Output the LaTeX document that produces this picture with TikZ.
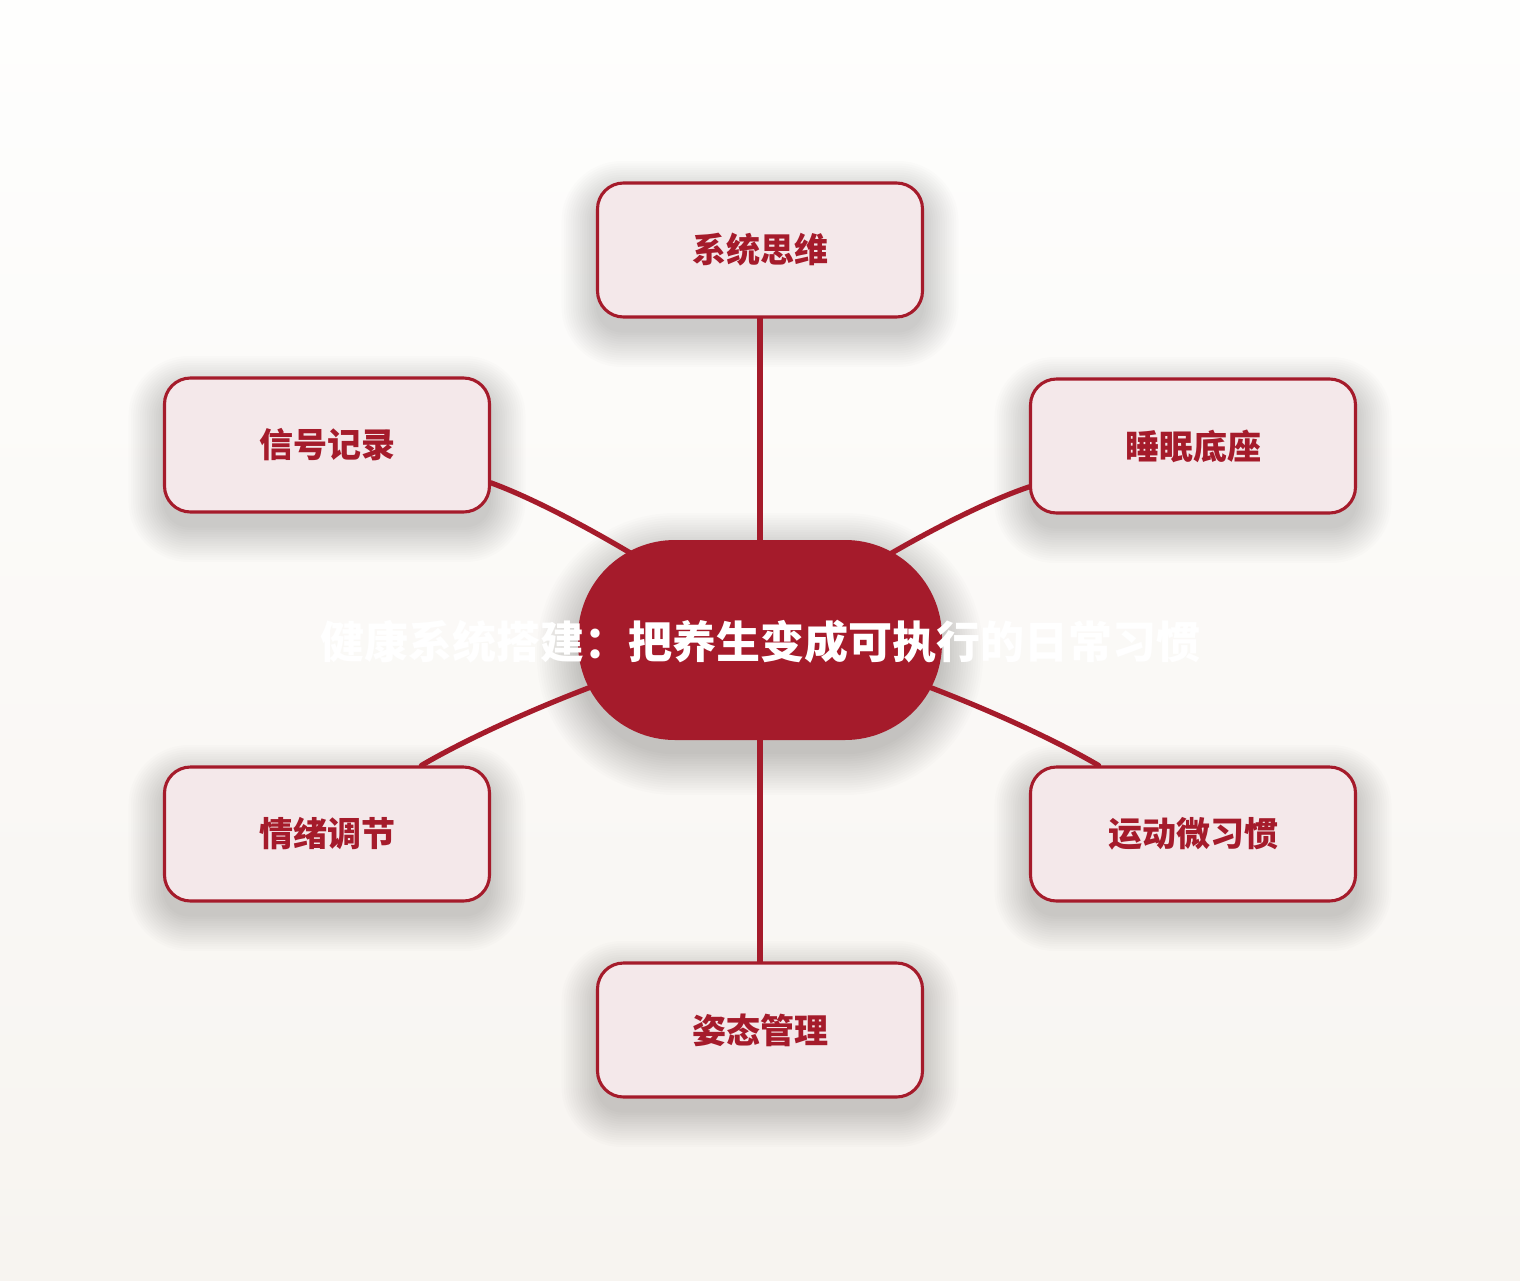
\documentclass[tikz,border=0pt]{standalone}
\usepackage{fontspec}
\newfontfamily\cjk{Noto Sans CJK SC}
\usetikzlibrary{calc}
\pgfdeclarelayer{bg}
\pgfdeclarelayer{mid}
\pgfsetlayers{bg,mid,main}
\definecolor{dred}{HTML}{A51B2B}
\definecolor{pinkfill}{HTML}{F4E8EA}
\definecolor{bgtop}{HTML}{FEFEFD}
\definecolor{bgbot}{HTML}{F7F4F0}
\tikzset{
  leaf/.style={draw=dred, line width=3.1pt, fill=pinkfill, rounded corners=26pt,
    minimum width=325pt, minimum height=134pt, inner sep=0pt,
    font=\cjk\bfseries\fontsize{34}{36}\selectfont, text=dred},
  hub/.style={fill=dred, rounded corners=97pt, minimum width=364pt, minimum height=200pt, inner sep=0pt},
  hubtext/.style={font=\cjk\bfseries\fontsize{44}{46}\selectfont, text=white, inner sep=0pt},
  link/.style={draw=dred, line width=5.2pt, line cap=round},
  shadelayer/.style={black, opacity=0.011}
}
\begin{document}
\begin{tikzpicture}[x=1pt,y=-1pt]
\useasboundingbox (0,0) rectangle (1520,1280);
% leaves
\node[leaf] (n1) at (760,250) {系统思维};
\node[leaf] (n2) at (327,445) {信号记录};
\node[leaf] (n3) at (1193,446) {睡眠底座};
\node[leaf] (n4) at (327,834) {情绪调节};
\node[leaf] (n5) at (1193,834) {运动微习惯};
\node[leaf] (n6) at (760,1030) {姿态管理};
% hub
\node[hub] (c) at (760,640) {};
\node[hubtext] (ct) at (760,642) {健康系统搭建：把养生变成可执行的日常习惯};
\begin{pgfonlayer}{bg}
\shade[top color=bgtop, bottom color=bgbot] (0,0) rectangle (1520,1280);
\foreach \n in {n1,n2,n3,n4,n5,n6} {
  \foreach \k in {0,...,15} {
    \pgfmathsetmacro\d{\k*2.3}
    \pgfmathsetmacro\rr{26+\d}
    \fill[shadelayer, rounded corners=\rr pt] ($(\n.north west)+(-\d,-\d+14)$) rectangle ($(\n.south east)+(\d,\d+14)$);
  }
}
\foreach \k in {0,...,17} {
  \pgfmathsetmacro\d{\k*2.4}
  \pgfmathsetmacro\rr{97+\d}
  \fill[black, opacity=0.012, rounded corners=\rr pt] ($(c.north west)+(-\d,-\d+14)$) rectangle ($(c.south east)+(\d,\d+14)$);
}
\end{pgfonlayer}
\begin{pgfonlayer}{mid}
\draw[link] (c.center) -- (n1.south);
\draw[link] (c.center) -- (n6.north);
\draw[link] (c.center) .. controls (690,585) and (565,510) .. (n2.-13);
\draw[link] (c.center) .. controls (830,585) and (955,512) .. (n3.194);
\draw[link] (c.center) .. controls (665,650) and (495,722) .. (n4.36);
\draw[link] (c.center) .. controls (855,650) and (1025,722) .. (n5.144);
\end{pgfonlayer}
\end{tikzpicture}
\end{document}
